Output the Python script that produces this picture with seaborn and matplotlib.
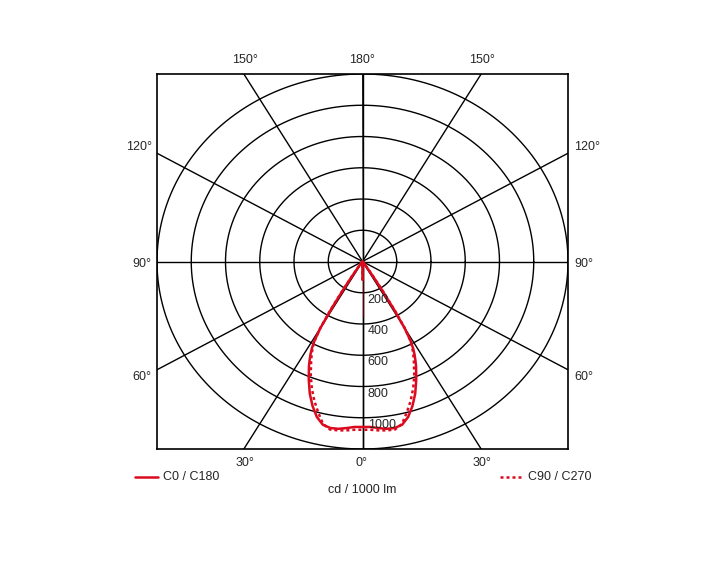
import numpy as np
import pandas as pd
import matplotlib
matplotlib.use("Agg")
import matplotlib.pyplot as plt
import seaborn as sns

# Luminous intensity (cd / 1000 lm)
gamma = [0, 2.5, 5, 7.5, 10, 12.5, 15, 17.5, 20, 22.5, 25, 26, 27, 28, 29, 30,
         31, 32, 33, 35, 40, 45, 50, 60, 70, 80, 90]
c0_c180 = [1056, 1060, 1070, 1080, 1082, 1070, 1030, 970, 900, 820, 740, 705, 670, 630, 575, 490,
           350, 210, 110, 30, 8, 3, 1, 0, 0, 0, 0]
c90_c270 = [1075, 1078, 1085, 1090, 1092, 1065, 1000, 935, 865, 790, 710, 680, 650, 615, 570, 500,
            370, 230, 120, 35, 10, 3, 1, 0, 0, 0, 0]

ring_values = [200, 400, 600, 800, 1000, 1200]
ring_labels = ["200", "400", "600", "800", "1000"]
spoke_angles = [0, 30, 60, 90, 120, 150, 180]
legend_labels = ["C0 / C180", "C90 / C270"]
unit_label = "cd / 1000 lm"

sns.set_style("white")
plt.rcParams["font.family"] = ["Liberation Sans", "DejaVu Sans"]

red = "#dc0a1e"
rmax = 1200

fig = plt.figure(figsize=(7.25, 5.8), dpi=100)
ax = fig.add_axes([157 / 725, (580 - 449) / 580, 411 / 725, 375 / 580])
ax.set_xlim(-rmax, rmax)
ax.set_ylim(-rmax, rmax)
ax.set_xticks([])
ax.set_yticks([])
for s in ax.spines.values():
    s.set_linewidth(1.2)
    s.set_color("black")

# rings
t = np.linspace(0, 2 * np.pi, 400)
for r in ring_values:
    ax.plot(r * np.cos(t), r * np.sin(t), color="black", lw=1.0, zorder=1)

# spokes (gamma 0 points down)
for a in spoke_angles:
    g = np.deg2rad(a)
    for side in (-1, 1):
        ax.plot([0, side * 3000 * np.sin(g)], [0, -3000 * np.cos(g)],
                color="black", lw=1.0, zorder=1)


def curve(values):
    g = np.deg2rad(np.array(gamma))
    v = np.array(values, dtype=float)
    # left half (C180 / C270) then right half (C0 / C90)
    x = np.concatenate([-(v * np.sin(g))[::-1], (v * np.sin(g))[1:]])
    y = np.concatenate([-(v * np.cos(g))[::-1], -(v * np.cos(g))[1:]])
    return pd.DataFrame({"x": x, "y": y})


sns.lineplot(data=curve(c0_c180), x="x", y="y", sort=False, ax=ax,
             color=red, lw=1.8, zorder=3)
sns.lineplot(data=curve(c90_c270), x="x", y="y", sort=False, ax=ax,
             color=red, lw=1.8, ls=(0, (1.2, 1.2)), zorder=3)
ax.set_xlabel("")
ax.set_ylabel("")

# ring labels
for r, lab in zip(ring_values, ring_labels):
    ax.text(30, -r - 45, lab, fontsize=9, ha="left", va="center", zorder=4)

# angle labels
fs = 9
def fig_text(px, py, s, ha="center"):
    fig.text(px / 725, 1 - py / 580, s, fontsize=fs, ha=ha, va="center")

fig_text(245, 60, "150°")
fig_text(362, 60, "180°")
fig_text(482, 60, "150°")
fig_text(139, 147, "120°")
fig_text(587, 147, "120°")
fig_text(142, 264, "90°")
fig_text(584, 264, "90°")
fig_text(142, 377, "60°")
fig_text(584, 377, "60°")
fig_text(245, 463, "30°")
fig_text(362, 463, "0°")
fig_text(482, 463, "30°")

# legend
fig.lines.append(plt.Line2D([135 / 725, 158 / 725], [1 - 477 / 580] * 2,
                            color=red, lw=1.8, transform=fig.transFigure))
fig.lines.append(plt.Line2D([500 / 725, 523 / 725], [1 - 477 / 580] * 2,
                            color=red, lw=1.8, ls=(0, (1.2, 1.2)),
                            transform=fig.transFigure))
fig_text(163, 477, legend_labels[0], ha="left")
fig_text(528, 477, legend_labels[1], ha="left")
fig_text(362, 490, unit_label)

fig.savefig("out.png", dpi=100)
